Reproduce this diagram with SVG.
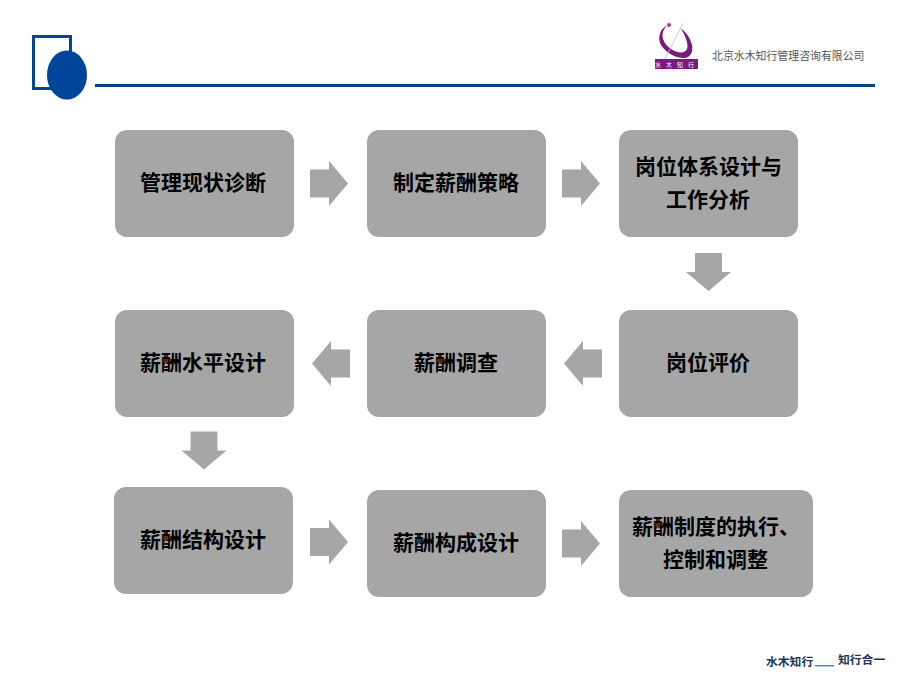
<svg xmlns="http://www.w3.org/2000/svg" width="907" height="680" viewBox="0 0 907 680">
<style>
.box{fill:#a6a6a6}
.arr{fill:#a6a6a6}
.t{font-family:"Noto Sans CJK SC","Liberation Sans",sans-serif;font-size:21px;font-weight:700;fill:#000;text-anchor:middle}
.co{font-family:"Noto Sans CJK SC","Liberation Sans",sans-serif;font-size:10.900px;fill:#555}
.f{font-family:"Noto Sans CJK SC","Liberation Sans",sans-serif;font-size:11.800px;font-weight:700;fill:#17375e}
</style>
<defs>
<polygon id="r" points="0,-14 19,-14 19,-22.500 38,0 19,22.500 19,14 0,14"/>
<polygon id="l" points="0,-14 -19,-14 -19,-22.500 -38,0 -19,22.500 -19,14 0,14"/>
<polygon id="d" points="-13.500,0 13.500,0 13.500,19 22.500,19 0,38 -22.500,19 -13.500,19"/>
</defs>
<rect width="907" height="680" fill="#fff"/>
<g id="header">
<rect x="33.500" y="36.500" width="37" height="52" fill="none" stroke="#00459a" stroke-width="3"/>
<ellipse cx="67" cy="75" rx="20" ry="24.500" fill="#00459a"/>
<rect x="95" y="84" width="780" height="3" fill="#00437f"/>
<g id="logo">
<path d="M668 25C660 28 657 38 661 45C666 53 677 59 685 58C692 57 694 49 691 42C689 36 685 31 680 28C684 32 689 44 687 49C685 54 677 53 671 49C665 45 661 38 663 32C664 29 666 26 668 25Z" fill="#7b1a7d"/>
<line x1="683" y1="23" x2="665" y2="59" stroke="#d3b0d4" stroke-width="0.800"/>
<circle cx="669" cy="25" r="2" fill="#b0308a"/>
<rect x="655" y="59" width="43" height="10" fill="#7b1a7d"/>
<text x="677" y="67" text-anchor="middle" style="font-family:'Noto Sans CJK SC',sans-serif;font-size:6px;fill:#fff;letter-spacing:5px">水木知行</text>
</g>
<text class="co" x="712" y="60">北京水木知行管理咨询有限公司</text>
</g>
<g id="connectors">
<use href="#r" class="arr" x="310" y="183.500"/>
<use href="#r" class="arr" x="562" y="183.500"/>
<use href="#d" class="arr" x="708.500" y="253"/>
<use href="#l" class="arr" x="602" y="363.500"/>
<use href="#l" class="arr" x="350" y="363.500"/>
<use href="#d" class="arr" x="204" y="431.500"/>
<use href="#r" class="arr" x="310" y="542"/>
<use href="#r" class="arr" x="562" y="543.500"/>
</g>
<g id="n1"><rect class="box" x="115" y="130" width="179" height="107" rx="12"/><text class="t" x="203" y="190">管理现状诊断</text></g>
<g id="n2"><rect class="box" x="367" y="130" width="179" height="107" rx="12"/><text class="t" x="456" y="190">制定薪酬策略</text></g>
<g id="n3"><rect class="box" x="619" y="130" width="179" height="107" rx="12"/><text class="t" x="708.500" y="174">岗位体系设计与</text><text class="t" x="708" y="207">工作分析</text></g>
<g id="n4"><rect class="box" x="619" y="310" width="179" height="107" rx="12"/><text class="t" x="708" y="370">岗位评价</text></g>
<g id="n5"><rect class="box" x="367" y="310" width="179" height="107" rx="12"/><text class="t" x="456" y="370">薪酬调查</text></g>
<g id="n6"><rect class="box" x="115" y="310" width="179" height="107" rx="12"/><text class="t" x="203" y="370">薪酬水平设计</text></g>
<g id="n7"><rect class="box" x="114" y="487" width="179" height="107" rx="12"/><text class="t" x="203" y="547">薪酬结构设计</text></g>
<g id="n8"><rect class="box" x="367" y="490" width="179" height="107" rx="12"/><text class="t" x="456" y="550">薪酬构成设计</text></g>
<g id="n9"><rect class="box" x="619" y="490" width="194" height="107" rx="12"/><text class="t" x="716" y="534">薪酬制度的执行、</text><text class="t" x="715.500" y="567">控制和调整</text></g>
<g id="footer">
<text class="f" x="766" y="666">水木知行</text>
<rect x="815" y="665" width="19" height="1.500" fill="#3a8fd0"/>
<text class="f" x="838" y="664">知行合一</text>
</g>
</svg>
